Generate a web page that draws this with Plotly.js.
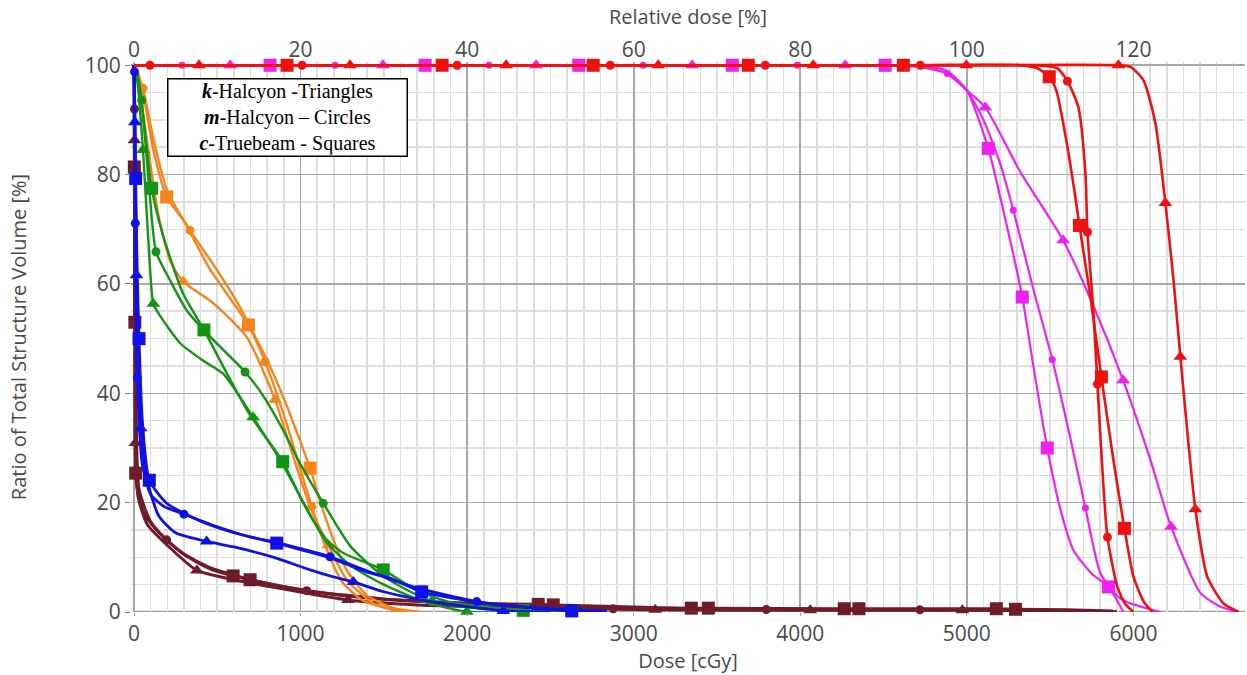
<!DOCTYPE html>
<html>
<head>
<meta charset="utf-8">
<script src="https://cdn.plot.ly/plotly-3.0.1.min.js"></script>
<style>html,body{margin:0;padding:0;background:#fff;}#chart{width:1247px;height:675px;}</style>
</head>
<body>
<div id="chart"></div>
<script>
// ---------- DATA (dose in cGy, volume in %) ----------
const prescriptionDose = 5000; // 100 % relative dose

// Red structure
const redSqX = [0, 919, 1850, 2757, 3688, 4619, 5300, 5420, 5495, 5537, 5597, 5646, 5676, 5740, 5808, 5880, 5946, 6000, 6060, 6114];
const redSqY = [100, 100, 100, 100, 100, 100, 100, 99.5, 97.9, 95.4, 86.3, 77, 70.7, 58, 43, 27.8, 15.3, 6.5, 2, 0];
const redSqMX = [919, 1850, 2757, 3688, 4619, 5495, 5676, 5808, 5946];
const redSqMY = [100, 100, 100, 100, 100, 97.9, 70.7, 43, 15.3];

const redCiX = [0, 96, 1009, 1940, 2859, 3790, 4721, 5400, 5540, 5604, 5670, 5712, 5724, 5760, 5784, 5810, 5844, 5904, 5950, 6000];
const redCiY = [100, 100, 100, 100, 100, 100, 100, 100, 99.5, 97.1, 92.3, 80.2, 69.5, 55, 41.7, 28, 13.7, 4.6, 1.5, 0];
const redCiMX = [96, 1009, 1940, 2859, 3790, 4721, 5604, 5724, 5784, 5844];
const redCiMY = [100, 100, 100, 100, 100, 100, 97.1, 69.5, 41.7, 13.7];

const redTrX = [0, 390, 1297, 2234, 3147, 4078, 4997, 5910, 5982, 6060, 6132, 6192, 6240, 6282, 6330, 6372, 6444, 6540, 6631];
const redTrY = [100, 100, 100, 100, 100, 100, 100, 100, 99.7, 97.3, 89.4, 74.8, 61, 46.7, 31, 18.8, 6.4, 1.6, 0];
const redTrMX = [390, 1297, 2234, 3147, 4078, 4997, 5910, 6192, 6282, 6372];
const redTrMY = [100, 100, 100, 100, 100, 100, 100, 74.8, 46.7, 18.8];

// Magenta structure
const mgSqX = [0, 817, 1748, 2670, 3592, 4510, 4750, 4880, 5000, 5129, 5230, 5333, 5410, 5483, 5560, 5640, 5750, 5850, 5940];
const mgSqY = [100, 100, 100, 100, 100, 100, 99.8, 99, 95.4, 84.8, 72, 57.6, 43, 30, 19, 11.3, 7, 4.6, 0];
const mgSqMX = [817, 1748, 2670, 3592, 4510, 5129, 5333, 5483, 5850];
const mgSqMY = [100, 100, 100, 100, 100, 84.8, 57.6, 30, 4.6];

const mgCiX = [0, 288, 1207, 2132, 3057, 3982, 4700, 4883, 5000, 5100, 5200, 5279, 5400, 5513, 5620, 5712, 5802, 5900, 5964, 6162];
const mgCiY = [100, 100, 100, 100, 100, 100, 99.8, 98.5, 95.4, 90, 82, 73.5, 59, 46.2, 32, 19, 7.1, 3, 1.8, 0];
const mgCiMX = [288, 1207, 2132, 3057, 3982, 4883, 5279, 5513, 5712];
const mgCiMY = [100, 100, 100, 100, 100, 98.5, 73.5, 46.2, 19];

const mgTrX = [0, 577, 1495, 2414, 3351, 4270, 4700, 4880, 5000, 5111, 5321, 5578, 5760, 5938, 6100, 6226, 6402, 6520, 6625];
const mgTrY = [100, 100, 100, 100, 100, 100, 99.8, 98.5, 95.4, 92.3, 80.5, 68, 56, 42.4, 28, 15.6, 3.5, 1, 0];
const mgTrMX = [577, 1495, 2414, 3351, 4270, 5111, 5578, 5938, 6226];
const mgTrMY = [100, 100, 100, 100, 100, 92.3, 68, 42.4, 15.6];

// Orange structure
const orSqX = [0, 20, 60, 120, 196, 300, 450, 687, 800, 900, 1057, 1120, 1200, 1280, 1400, 1550, 1720];
const orSqY = [100, 99, 94, 84, 75.9, 71.5, 63, 52.5, 46, 39, 26.3, 20, 13, 7.5, 3, 0.8, 0];
const orSqMX = [196, 687, 1057];
const orSqMY = [75.9, 52.5, 26.3];

const orCiX = [0, 20, 54, 120, 200, 336, 500, 650, 787, 900, 1000, 1067, 1150, 1250, 1380, 1550, 1700];
const orCiY = [100, 98.5, 95.8, 86, 77, 69.8, 62.5, 55, 45.8, 36, 26, 19.3, 12, 5.5, 2, 0.5, 0];
const orCiMX = [54, 336, 787, 1067];
const orCiMY = [95.8, 69.8, 45.8, 19.3];

const orTrX = [0, 20, 60, 150, 220, 296, 475, 677, 847, 950, 1060, 1167, 1277, 1437, 1600];
const orTrY = [100, 98, 90, 72, 64, 60.4, 56.5, 50.3, 38.8, 29, 19, 12.2, 5.9, 1.6, 0];
const orTrMX = [296, 847, 1167];
const orTrMY = [60.4, 38.8, 12.2];

// Green structure
const grSqX = [0, 20, 50, 106, 177, 294, 420, 560, 697, 893, 1015, 1075, 1157, 1256, 1496, 1697, 1900, 2337, 2600];
const grSqY = [100, 98, 92, 77.5, 68.6, 58.3, 51.6, 43.5, 36, 27.5, 20, 16.8, 13.2, 10.8, 7.7, 4, 1.8, 0.3, 0];
const grSqMX = [106, 420, 893, 1496, 2337];
const grSqMY = [77.5, 51.6, 27.5, 7.7, 0.3];

const grCiX = [0, 20, 46, 90, 132, 216, 316, 436, 577, 667, 777, 900, 1000, 1136, 1300, 1500, 1788, 2100, 2500];
const grCiY = [100, 98.5, 93.6, 78, 65.9, 60.7, 55.2, 51, 46.7, 43.9, 39.5, 33, 27, 19.9, 12, 6.5, 1.9, 0.6, 0];
const grCiMX = [46, 132, 667, 1136, 1788];
const grCiMY = [93.6, 65.9, 43.9, 19.9, 1.9];

const grTrX = [0, 20, 54, 90, 116, 156, 276, 414, 535, 637, 715, 893, 1000, 1150, 1300, 1500, 1750, 1998, 2300];
const grTrY = [100, 97, 84.5, 66, 56.4, 54.2, 49.2, 46, 43.6, 39.3, 35.6, 27, 21, 13, 8.5, 5, 1.8, 0.05, 0];
const grTrMX = [54, 116, 715, 1998];
const grTrMY = [84.5, 56.4, 35.6, 0.05];

// Blue structure
const blSqX = [0, 3, 10, 18, 30, 50, 92, 200, 400, 600, 857, 1000, 1177, 1400, 1538, 1727, 2000, 2300, 2628, 2838];
const blSqY = [100, 95, 79.3, 64, 50, 35, 24.1, 19.8, 16.6, 14.5, 12.6, 11.4, 9.9, 7.3, 6.2, 3.7, 2.1, 1, 0.2, 0];
const blSqMX = [10, 30, 92, 857, 1727, 2628];
const blSqMY = [79.3, 50, 24.1, 12.6, 3.7, 0.2];

const blCiX = [0, 3, 8, 20, 50, 100, 180, 300, 500, 700, 857, 1000, 1177, 1400, 1700, 2058, 2400, 2838];
const blCiY = [100, 98.8, 71.1, 42.8, 27, 21.5, 19.3, 17.9, 15.6, 13.7, 12.7, 11.6, 10.1, 7.5, 4.4, 1.9, 0.8, 0.1];
const blCiMX = [3, 8, 20, 300, 1177, 2058];
const blCiMY = [98.8, 71.1, 42.8, 17.9, 10.1, 1.9];

const blTrX = [0, 5, 15, 40, 80, 150, 250, 436, 600, 850, 1057, 1200, 1317, 1500, 1800, 2217, 2500];
const blTrY = [100, 89.6, 61.6, 33.6, 24, 17.5, 14.5, 12.9, 11.9, 9.9, 7.7, 6.4, 5.5, 3.7, 1.8, 0.2, 0];
const blTrMX = [5, 15, 40, 436, 1317, 2217];
const blTrMY = [89.6, 61.6, 33.6, 12.9, 5.5, 0.2];

// Maroon structure
const mrSqX = [0, 2, 5, 10, 20, 60, 150, 300, 450, 595, 697, 900, 1200, 1600, 2000, 2427, 2517, 3000, 3346, 3448, 4264, 4352, 5177, 5292, 5600, 5877];
const mrSqY = [100, 81.4, 53, 25.4, 22.3, 18, 14.5, 10.5, 8, 6.6, 5.9, 4.6, 3.2, 2.1, 1.6, 1.4, 1.3, 0.9, 0.7, 0.7, 0.6, 0.6, 0.6, 0.5, 0.4, 0.2];
const mrSqMX = [2, 5, 10, 595, 697, 2427, 2517, 3346, 3448, 4264, 4352, 5177, 5292];
const mrSqMY = [81.4, 53, 25.4, 6.6, 5.9, 1.4, 1.3, 0.7, 0.7, 0.6, 0.6, 0.6, 0.5];

const mrCiX = [0, 3, 6, 12, 30, 100, 196, 300, 450, 700, 1037, 1500, 2000, 2877, 3796, 4718, 5500, 5900];
const mrCiY = [100, 92, 70, 38, 22.5, 16.5, 13.2, 10.6, 8.2, 5.9, 3.9, 2.4, 1.6, 0.6, 0.45, 0.4, 0.3, 0];
const mrCiMX = [3, 196, 1037, 2877, 3796, 4718];
const mrCiMY = [92, 13.2, 3.9, 0.6, 0.45, 0.4];

const mrTrX = [0, 3, 8, 25, 80, 200, 378, 600, 900, 1285, 1700, 2200, 3129, 4060, 4973, 5600, 5900];
const mrTrY = [100, 86.3, 30.9, 21, 16, 12.2, 7.6, 5.9, 4.2, 2.2, 1.3, 0.9, 0.4, 0.3, 0.3, 0.2, 0];
const mrTrMX = [3, 8, 378, 1285, 3129, 4060, 4973];
const mrTrMY = [86.3, 30.9, 7.6, 2.2, 0.4, 0.3, 0.3];

const xTickVals = [0, 1000, 2000, 3000, 4000, 5000, 6000];
const yTickVals = [0, 20, 40, 60, 80, 100];
const relTickVals = [0, 20, 40, 60, 80, 100, 120];

// ---------- STYLE ----------
const COL = {
  red: '#f01010', mg: '#f020f0', or: '#f7841a', gr: '#149414', bl: '#1010e8', mr: '#6e1c2c'
};
const WIDTH = { red: 2.6, mg: 2.2, or: 2.4, gr: 2.4, bl: 2.8, mr: 3 };
const SYM = { Sq: 'square', Ci: 'circle', Tr: 'triangle-up' };
const MSIZE = { Sq: 13, Ci: 9, Tr: 12 };

const groups = [
  ['mr', [['Tr', mrTrX, mrTrY, mrTrMX, mrTrMY], ['Ci', mrCiX, mrCiY, mrCiMX, mrCiMY], ['Sq', mrSqX, mrSqY, mrSqMX, mrSqMY]]],
  ['or', [['Tr', orTrX, orTrY, orTrMX, orTrMY], ['Ci', orCiX, orCiY, orCiMX, orCiMY], ['Sq', orSqX, orSqY, orSqMX, orSqMY]]],
  ['gr', [['Tr', grTrX, grTrY, grTrMX, grTrMY], ['Ci', grCiX, grCiY, grCiMX, grCiMY], ['Sq', grSqX, grSqY, grSqMX, grSqMY]]],
  ['bl', [['Tr', blTrX, blTrY, blTrMX, blTrMY], ['Ci', blCiX, blCiY, blCiMX, blCiMY], ['Sq', blSqX, blSqY, blSqMX, blSqMY]]],
  ['mg', [['Tr', mgTrX, mgTrY, mgTrMX, mgTrMY], ['Ci', mgCiX, mgCiY, mgCiMX, mgCiMY], ['Sq', mgSqX, mgSqY, mgSqMX, mgSqMY]]],
  ['red', [['Tr', redTrX, redTrY, redTrMX, redTrMY], ['Ci', redCiX, redCiY, redCiMX, redCiMY], ['Sq', redSqX, redSqY, redSqMX, redSqMY]]]
];

const X_RANGE = [-18, 6670];
const traces = [];
// helper trace for top relative-dose axis
traces.push({
  x: redSqX.map(d => d * 100 / prescriptionDose), y: redSqY, xaxis: 'x2', yaxis: 'y',
  mode: 'lines', line: { width: 0, color: 'rgba(0,0,0,0)' }, hoverinfo: 'skip', showlegend: false
});
groups.forEach(([c, curves]) => {
  curves.forEach(([s, x, y, mx, my]) => {
    traces.push({
      x: x, y: y, mode: 'lines', line: { color: COL[c], width: WIDTH[c], shape: 'spline', smoothing: 0.6 },
      showlegend: false, hoverinfo: 'skip', cliponaxis: false
    });
    traces.push({
      x: mx, y: my, mode: 'markers',
      marker: { symbol: SYM[s], size: (c === 'mg' && s === 'Ci') ? 7 : MSIZE[s], color: COL[c] },
      showlegend: false, cliponaxis: false
    });
  });
});

const FONT = 'Open Sans, DejaVu Sans, sans-serif';
const tickFont = { family: FONT, size: 21, color: '#4a4a4a' };
const titleFont = { family: FONT, size: 20, color: '#4a4a4a' };

const layout = {
  width: 1247, height: 675,
  margin: { l: 131, r: 2, t: 62, b: 63 },
  paper_bgcolor: '#ffffff', plot_bgcolor: '#ffffff',
  showlegend: false,
  xaxis: {
    range: X_RANGE, tickvals: xTickVals, showgrid: true, gridcolor: '#a8a8a8', gridwidth: 1.6,
    minor: { dtick: 100, tick0: 0, showgrid: true, gridcolor: '#dedede', gridwidth: 1.6 },
    zeroline: false, showline: false,
    ticks: 'outside', ticklen: 3, tickcolor: '#9a9a9a', tickfont: tickFont,
    title: { text: 'Dose [cGy]', font: titleFont, standoff: 0 }, automargin: false
  },
  xaxis2: {
    overlaying: 'x', side: 'top', anchor: 'y', range: X_RANGE.map(d => d * 100 / prescriptionDose),
    tickvals: relTickVals, showgrid: false, zeroline: false, showline: false,
    ticks: '', tickfont: tickFont,
    title: { text: 'Relative dose [%]', font: titleFont, standoff: 4 }, automargin: false
  },
  yaxis: {
    range: [0, 100.6], tickvals: yTickVals, showgrid: true, gridcolor: '#a8a8a8', gridwidth: 1.6,
    minor: { dtick: 5, tick0: 0, showgrid: true, gridcolor: '#dedede', gridwidth: 1.6 },
    zeroline: false, showline: false,
    ticks: 'outside', ticklen: 5, tickcolor: '#7a7a7a', tickfont: tickFont,
    title: { text: 'Ratio of Total Structure Volume [%]', font: titleFont, standoff: 52 }, automargin: false
  },
  shapes: [
    { type: 'line', xref: 'x', yref: 'paper', x0: 0, x1: 0, y0: 0, y1: 1, line: { color: '#7a7a7a', width: 1.5 }, layer: 'below' },
    { type: 'line', xref: 'x', yref: 'y', x0: 0, x1: X_RANGE[1], y0: 0, y1: 0, line: { color: '#9a9a9a', width: 2.5 }, layer: 'below' }
  ],
  annotations: [{
    xref: 'x', yref: 'y', x: 919, y: 90.5, showarrow: false,
    text: '<b><i>k</i></b>-Halcyon -Triangles<br><b><i>m</i></b>-Halcyon – Circles<br><b><i>c</i></b>-Truebeam - Squares',
    font: { family: 'Liberation Serif, Times New Roman, serif', size: 20, color: '#000' },
    bgcolor: '#ffffff', bordercolor: '#000000', borderwidth: 1.5, borderpad: 1,
    width: 236, height: 74, align: 'center'
  }]
};

Plotly.newPlot('chart', traces, layout, { displayModeBar: false, staticPlot: true });
</script>
</body>
</html>
